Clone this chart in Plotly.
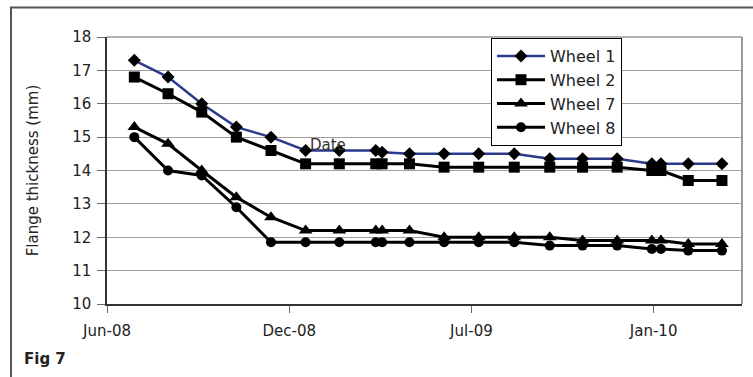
import plotly.graph_objects as go

# Measurement dates (same for all wheels)
dates = [
    "2008-07-01", "2008-08-07", "2008-09-13", "2008-10-21", "2008-11-28",
    "2009-01-05", "2009-02-11", "2009-03-23", "2009-03-30", "2009-04-29",
    "2009-06-06", "2009-07-14", "2009-08-22", "2009-09-30", "2009-11-05",
    "2009-12-13", "2010-01-20", "2010-01-30", "2010-03-01", "2010-04-07",
]

# Flange thickness (mm) per wheel
wheel_1 = [17.3, 16.8, 16.0, 15.3, 15.0, 14.6, 14.6, 14.6, 14.55, 14.5,
           14.5, 14.5, 14.5, 14.35, 14.35, 14.35, 14.2, 14.2, 14.2, 14.2]
wheel_2 = [16.8, 16.3, 15.75, 15.0, 14.6, 14.2, 14.2, 14.2, 14.2, 14.2,
           14.1, 14.1, 14.1, 14.1, 14.1, 14.1, 14.0, 14.0, 13.7, 13.7]
wheel_7 = [15.3, 14.8, 14.0, 13.2, 12.6, 12.2, 12.2, 12.2, 12.2, 12.2,
           12.0, 12.0, 12.0, 12.0, 11.9, 11.9, 11.9, 11.9, 11.8, 11.8]
wheel_8 = [15.0, 14.0, 13.85, 12.9, 11.85, 11.85, 11.85, 11.85, 11.85, 11.85,
           11.85, 11.85, 11.85, 11.75, 11.75, 11.75, 11.65, 11.65, 11.6, 11.6]

tick_dates = ["2008-06-01", "2008-12-18", "2009-07-06", "2010-01-22"]
tick_labels = ["Jun-08", "Dec-08", "Jul-09", "Jan-10"]

FONT = "DejaVu Sans"
BLUE = "#2c3a8c"

series = [
    ("Wheel 1", wheel_1, BLUE, 2.5, "diamond", 10),
    ("Wheel 2", wheel_2, "black", 3, "square", 11),
    ("Wheel 7", wheel_7, "black", 3, "triangle-up", 12),
    ("Wheel 8", wheel_8, "black", 3, "circle", 10),
]

fig = go.Figure()
for name, vals, color, lw, sym, ms in series:
    fig.add_trace(go.Scatter(
        x=dates, y=vals, name=name, mode="lines+markers",
        line=dict(color=color, width=lw),
        marker=dict(symbol=sym, size=ms, color="black"),
    ))

W, H = 753, 377
ML, MR, MT, MB = 107, 11, 37, 73
pw = W - ML - MR
ph = H - MT - MB

def px(x):
    return (x - ML) / pw

def py(y):
    return (H - MB - y) / ph

fig.update_layout(
    width=W, height=H,
    margin=dict(l=ML, r=MR, t=MT, b=MB, pad=0),
    paper_bgcolor="white", plot_bgcolor="white",
    font=dict(family=FONT, size=15, color="#222"),
    showlegend=True,
    legend=dict(
        x=px(491), y=py(38), xanchor="left", yanchor="top",
        bgcolor="white", bordercolor="black", borderwidth=1,
        font=dict(family=FONT, size=16, color="#222"),
        tracegroupgap=0, itemwidth=48,
    ),
    xaxis=dict(
        type="date", range=["2008-06-01", "2010-04-29"],
        tickmode="array", tickvals=tick_dates, ticktext=tick_labels,
        ticks="outside", ticklen=7, tickcolor="#666",
        ticklabelstandoff=5,
        showgrid=False, zeroline=False,
        showline=True, linecolor="#333", linewidth=1.5,
        tickfont=dict(family=FONT, size=15, color="#222"),
    ),
    yaxis=dict(
        range=[10, 18], dtick=1, tick0=10,
        ticks="outside", ticklen=8, tickcolor="#666",
        ticklabelstandoff=3,
        showgrid=True, gridcolor="#a0a0a0", gridwidth=1,
        zeroline=False,
        showline=True, linecolor="#333", linewidth=1.5,
        tickfont=dict(family=FONT, size=15, color="#222"),
        title=dict(text="Flange thickness (mm)", standoff=30,
                   font=dict(family=FONT, size=15, color="#222")),
    ),
    shapes=[
        # plot area border (top/right in grey)
        dict(type="line", xref="paper", yref="paper", x0=0, x1=1, y0=1, y1=1,
             line=dict(color="#999", width=1.5), layer="below"),
        dict(type="line", xref="paper", yref="paper", x0=1, x1=1, y0=0, y1=1,
             line=dict(color="#999", width=2), layer="below"),
        # outer figure frame (top and left)
        dict(type="line", xref="paper", yref="paper",
             x0=px(10), x1=px(760), y0=py(7.5), y1=py(7.5),
             line=dict(color="#555", width=2)),
        dict(type="line", xref="paper", yref="paper",
             x0=px(11), x1=px(11), y0=py(7.5), y1=py(380),
             line=dict(color="#555", width=2)),
    ],
    annotations=[
        dict(text="Date", xref="paper", yref="paper", x=px(328), y=py(145),
             xanchor="center", yanchor="middle", showarrow=False,
             font=dict(family=FONT, size=15, color="#333")),
        dict(text="<b>Fig 7</b>", xref="paper", yref="paper", x=px(22), y=py(359),
             xanchor="left", yanchor="middle", showarrow=False,
             font=dict(family=FONT, size=15, color="#222")),
    ],
)

fig.write_html("out.html")
